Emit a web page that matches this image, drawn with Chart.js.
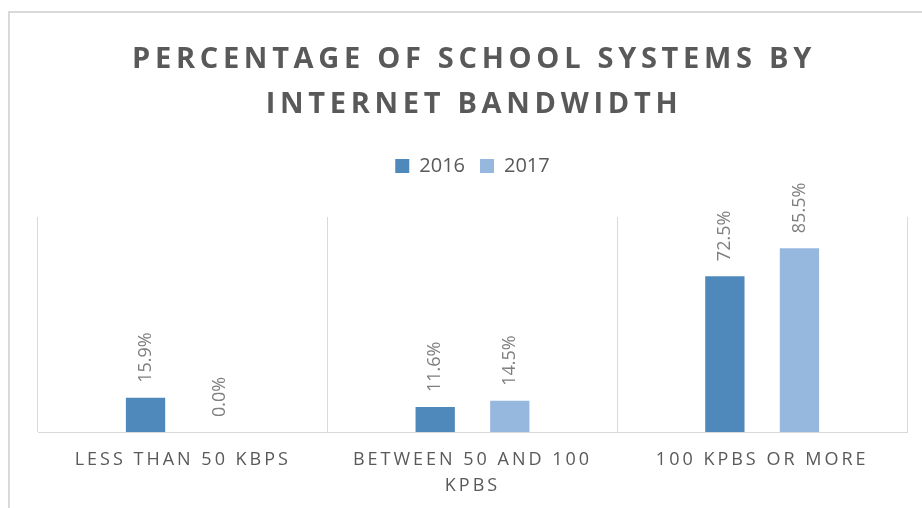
<!DOCTYPE html>
<html lang="en">
<head>
<meta charset="UTF-8">
<title>Percentage of School Systems by Internet Bandwidth</title>
<script src="https://cdn.jsdelivr.net/npm/chart.js@4"></script>
<style>
  body { margin: 0; background: #fff; overflow: hidden; }
  #frame { position: absolute; left: 8px; top: 11px; width: 1000px; height: 600px; border: 2px solid #d9d9d9; }
  #wrap { position: absolute; left: 0; top: 0; width: 922px; height: 508px; }
</style>
</head>
<body>
<div id="frame"></div>
<div id="wrap"><canvas id="bandwidthChart"></canvas></div>
<script>
const titleLines = ['PERCENTAGE OF SCHOOL SYSTEMS BY', 'INTERNET BANDWIDTH'];
const categories = ['LESS THAN 50 KBPS', ['BETWEEN 50 AND 100', 'KPBS'], '100 KPBS OR MORE'];
const seriesNames = ['2016', '2017'];
const values2016 = [15.9, 11.6, 72.5];
const values2017 = [0.0, 14.5, 85.5];

const textGray = '#595959';

// value labels, rotated, above each bar
const barLabels = {
  id: 'barLabels',
  afterDatasetsDraw(chart) {
    const ctx = chart.ctx;
    ctx.save();
    ctx.font = '18px "Open Sans"';
    ctx.fillStyle = '#7f7f7f';
    ctx.textAlign = 'left';
    ctx.textBaseline = 'middle';
    chart.data.datasets.forEach((ds, i) => {
      chart.getDatasetMeta(i).data.forEach((bar, j) => {
        ctx.save();
        ctx.translate(bar.x, bar.y - 15);
        ctx.rotate(-Math.PI / 2);
        ctx.fillText(ds.data[j].toFixed(1) + '%', 0, 0);
        ctx.restore();
      });
    });
    ctx.restore();
    // tick labels are drawn after this (ticks.z = 1) and are letter-spaced
    ctx.letterSpacing = '3px';
  },
  afterDraw(chart) {
    const ctx = chart.ctx;
    ctx.save();
    ctx.font = 'bold 29px "Open Sans"';
    ctx.fillStyle = textGray;
    ctx.textAlign = 'center';
    ctx.textBaseline = 'alphabetic';
    ctx.letterSpacing = '4.7px';
    titleLines.forEach((line, i) => ctx.fillText(line, 474, 68 + i * 44.5));
    ctx.restore();
    ctx.letterSpacing = '0px';
  }
};

// extra room between legend and plot
const legendGap = {
  id: 'legendGap',
  beforeLayout(chart) {
    const legend = chart.legend;
    if (legend && !legend._gapAdded) {
      const fit = legend.fit;
      legend.fit = function () { fit.call(this); this.height += 31; };
      legend._gapAdded = true;
    }
  }
};

new Chart(document.getElementById('bandwidthChart'), {
  type: 'bar',
  data: {
    labels: categories,
    datasets: [
      { label: seriesNames[0], data: values2016, backgroundColor: '#4f88bb' },
      { label: seriesNames[1], data: values2017, backgroundColor: '#96b8df' }
    ]
  },
  options: {
    responsive: true,
    maintainAspectRatio: false,
    devicePixelRatio: 1,
    animation: false,
    layout: { padding: { left: 38, right: 15, top: 141, bottom: 9 } },
    datasets: { bar: { categoryPercentage: 0.515, barPercentage: 0.527 } },
    plugins: {
      title: { display: false },
      tooltip: { enabled: false },
      legend: {
        position: 'top',
        labels: {
          boxWidth: 14,
          boxHeight: 14,
          padding: 15,
          color: textGray,
          font: { family: 'Open Sans', size: 20 }
        }
      }
    },
    scales: {
      x: {
        afterFit(scale) { scale.height = 67; },
        grid: { color: '#d9d9d9', lineWidth: 1, drawTicks: false, offset: true },
        border: { color: '#d9d9d9', width: 1 },
        ticks: {
          color: textGray,
          font: { family: 'Open Sans', size: 18, lineHeight: 1.45 },
          padding: 15,
          maxRotation: 0,
          autoSkip: false,
          z: 1
        }
      },
      y: { display: false, min: 0, max: 100 }
    }
  },
  plugins: [barLabels, legendGap]
});
</script>
</body>
</html>
